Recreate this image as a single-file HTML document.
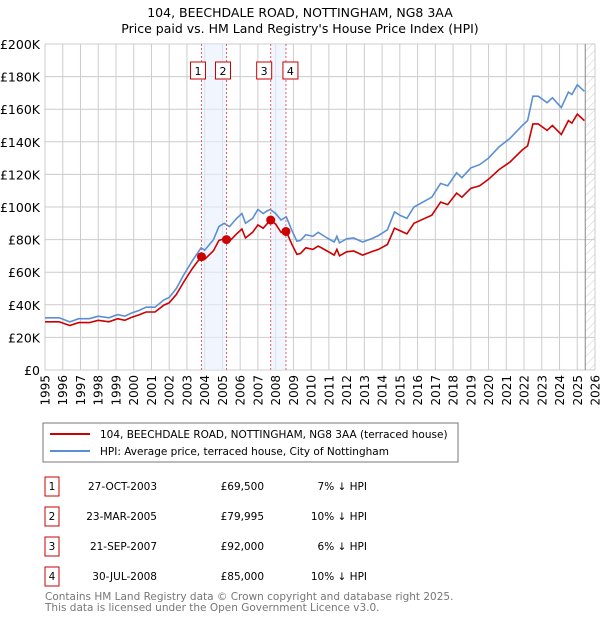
<!DOCTYPE html>
<html><head><meta charset="utf-8"><style>
body{margin:0;background:#fff;font-family:"DejaVu Sans","Liberation Sans",sans-serif;}
svg text{font-family:"DejaVu Sans","Liberation Sans",sans-serif;}
</style></head><body>
<svg id="c" width="600" height="620" xmlns="http://www.w3.org/2000/svg">
<defs><pattern id="hatch" width="6" height="6" patternUnits="userSpaceOnUse" patternTransform="rotate(45)"><line x1="0" y1="0" x2="0" y2="6" stroke="#ccc" stroke-width="1"/></pattern></defs>
<text x="300" y="17" text-anchor="middle" font-size="12.5">104, BEECHDALE ROAD, NOTTINGHAM, NG8 3AA</text>
<text x="300" y="33" text-anchor="middle" font-size="12.5">Price paid vs. HM Land Registry's House Price Index (HPI)</text>
<g id="grid"></g><g id="shades"></g><g id="lines"></g><g id="marks"></g><g id="axes"></g>
<rect x="43" y="423" width="415" height="39" fill="#fff" stroke="#777"/>
<line x1="50" y1="434" x2="90" y2="434" stroke="#cc0000" stroke-width="2"/>
<text x="100" y="438" font-size="10.5">104, BEECHDALE ROAD, NOTTINGHAM, NG8 3AA (terraced house)</text>
<line x1="50" y1="451" x2="90" y2="451" stroke="#5b8fd4" stroke-width="2"/>
<text x="100" y="455" font-size="10.5">HPI: Average price, terraced house, City of Nottingham</text>
<g id="table" font-size="10.5"></g>
<text x="45" y="600" font-size="10.5" fill="#777">Contains HM Land Registry data © Crown copyright and database right 2025.</text>
<text x="45" y="611" font-size="10.5" fill="#777">This data is licensed under the Open Government Licence v3.0.</text>
</svg>
<script>
const years=[1995,1995.8,1996.4,1996.9,1997.5,1998.0,1998.6,1999.1,1999.5,1999.9,2000.3,2000.7,2001.2,2001.7,2002.0,2002.4,2002.8,2003.3,2003.8,2004.0,2004.5,2004.8,2005.1,2005.4,2005.8,2006.1,2006.3,2006.7,2007.0,2007.3,2007.5,2007.7,2008.0,2008.3,2008.6,2008.9,2009.2,2009.4,2009.7,2010.1,2010.4,2010.9,2011.3,2011.45,2011.6,2012.0,2012.4,2012.9,2013.4,2013.8,2014.3,2014.7,2015.0,2015.4,2015.8,2016.3,2016.8,2017.3,2017.7,2018.2,2018.5,2019.0,2019.5,2020.0,2020.6,2021.2,2021.9,2022.2,2022.5,2022.8,2023.3,2023.6,2024.1,2024.5,2024.7,2025.0,2025.4];
const hpi=[32,32,29.5,31.5,31.5,33,32,34,33,35,36.5,38.5,38.5,43,44.5,50,58,67,75,73.5,80,88,90,88,93,96,90,93,98.5,96,97.5,98.5,96,92,94,86,79,79.5,83,82,84.5,81,78.5,82,78,80.5,81,78.5,80.5,82.5,86,97,95,93,100,103,106,114.5,113,121,118,124,126,130,137,142,150,153,168,168,164,167,161,170.5,169,175,171];
const price=[29.6,29.6,27.3,29.1,29.1,30.5,29.6,31.5,30.5,32.4,33.8,35.6,35.6,39.8,41.2,46.3,53.7,62.2,69.5,67.9,73.2,79.5,80.5,79,83.5,86.5,81,84.5,89,87,89.5,92,89.5,84.5,85,77.5,71,71.5,75,74,76,73,70.5,74,70,72.5,73,70.5,72.5,74,77,87,85.5,83.5,90,92.5,95,103,101.5,108.5,106,111.5,113,117,123,127.5,135,137.5,151,151,147,150,144.5,153,151.5,157,153];
const saleYears=[2003.82,2005.23,2007.72,2008.58];
const saleValues=[69.5,79.995,92,85];
const saleLabels=["1","2","3","4"];
const saleDates=["27-OCT-2003","23-MAR-2005","21-SEP-2007","30-JUL-2008"];
const salePrices=["£69,500","£79,995","£92,000","£85,000"];
const saleDiffs=["7% ↓ HPI","10% ↓ HPI","6% ↓ HPI","10% ↓ HPI"];
const yTicks=[0,20,40,60,80,100,120,140,160,180,200];
const xTicks=[1995,1996,1997,1998,1999,2000,2001,2002,2003,2004,2005,2006,2007,2008,2009,2010,2011,2012,2013,2014,2015,2016,2017,2018,2019,2020,2021,2022,2023,2024,2025,2026];
const NS="http://www.w3.org/2000/svg";
const X0=45,X1=595,Y0=370,Y1=44;
const xs=y=>X0+(y-1995)/(2026-1995)*(X1-X0);
const ys=v=>Y0-v/200*(Y0-Y1);
function mk(p,t,a){const e=document.createElementNS(NS,t);for(const k in a)e.setAttribute(k,a[k]);p.appendChild(e);return e;}
const grid=document.getElementById('grid'),axes=document.getElementById('axes'),shades=document.getElementById('shades'),lines=document.getElementById('lines'),marks=document.getElementById('marks');
yTicks.forEach(v=>{const l=mk(grid,'line',{x1:X0,x2:X1,y1:ys(v),y2:ys(v),stroke:'#ccc'});


const t=mk(axes,'text',{x:40,y:ys(v)+5,'text-anchor':'end','font-size':'12.5'});t.textContent=v===0?'£0':'£'+v+'K';

});
xTicks.forEach(y=>{const l=mk(grid,'line',{x1:xs(y),x2:xs(y),y1:Y1,y2:Y0,stroke:'#ccc'});


const tx=xs(y)+4.5,ty=375;
const t=mk(axes,'text',{x:tx,y:ty,'text-anchor':'end','font-size':'12',transform:'rotate(-90 '+tx+' '+ty+')'});t.textContent=y;

});
const endX=xs(2025.45);
const h=mk(shades,'rect',{x:endX,y:Y1,width:X1-endX,height:Y0-Y1,fill:'url(#hatch)'});


const el=mk(shades,'line',{x1:endX,x2:endX,y1:Y1,y2:Y0,stroke:'#888'});


[[0,1],[2,3]].forEach(([a,b])=>{const r=mk(shades,'rect',{x:xs(saleYears[a]),y:Y1,width:xs(saleYears[b])-xs(saleYears[a]),height:Y0-Y1,fill:'#e8eefb',opacity:0.6});

});
function path(arr,col,name){const d=years.map((y,i)=>(i?'L':'M')+xs(y).toFixed(1)+' '+ys(arr[i]).toFixed(1)).join('');
const p=mk(lines,'path',{d:d,fill:'none',stroke:col,'stroke-width':1.6});

}
path(hpi,'#5b8fd4','hpi-line');path(price,'#cc0000','price-line');
saleYears.forEach((y,i)=>{const x=xs(y);
const l=mk(marks,'line',{x1:x,x2:x,y1:Y1,y2:Y0,stroke:'#e06060','stroke-dasharray':'2,2'});


const c=mk(marks,'circle',{cx:x,cy:ys(saleValues[i]),r:4.5,fill:'#cc0000'});


const bx=i===2?x-14:(i===3?x-3:x-11);
const b=mk(marks,'rect',{x:bx,y:62,width:15,height:17,fill:'#fff',stroke:'#cc0000'});


const t=mk(marks,'text',{x:bx+7.5,y:75,'text-anchor':'middle','font-size':'11'});t.textContent=saleLabels[i];

});
const tb=document.getElementById('table');
saleLabels.forEach((s,i)=>{const y=485+i*30;
const r=mk(tb,'rect',{x:45,y:y-8,width:14,height:19,fill:'#fff',stroke:'#cc0000'});


const vals=[[52,s,'middle'],[157,saleDates[i],'end'],[264,salePrices[i],'end'],[367,saleDiffs[i],'end']];
vals.forEach(([x,txt,an],j)=>{const t=mk(tb,'text',{x:x,y:y+5,'text-anchor':an});t.textContent=txt;

});});
</script>
</body></html>
